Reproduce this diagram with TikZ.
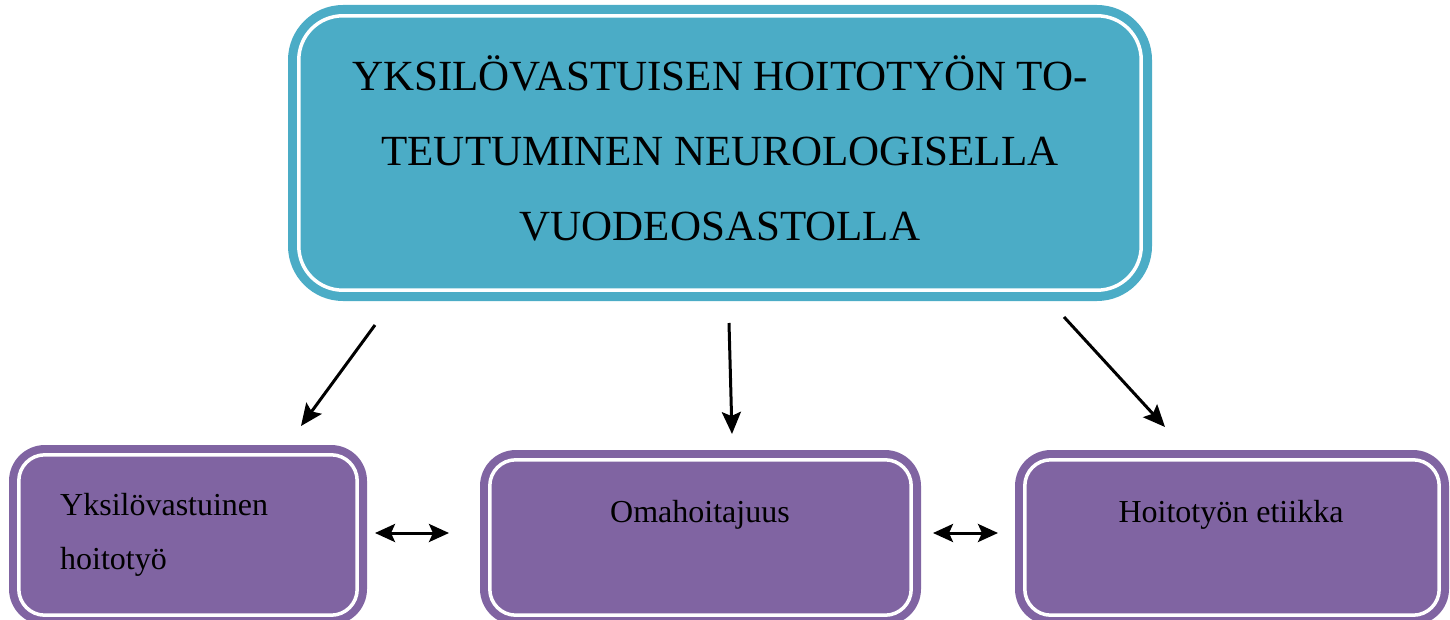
\documentclass[tikz,border=0pt]{standalone}
\usepackage{fontspec}
\setmainfont{Liberation Serif}
\usetikzlibrary{arrows.meta}
\definecolor{topblue}{HTML}{4BACC6}
\definecolor{subpurple}{HTML}{8064A2}
\tikzset{
  topbox/.style={rectangle, rounded corners=55pt, fill=topblue, inner sep=0pt},
  subbox/.style={rectangle, rounded corners=36pt, fill=subpurple, inner sep=0pt},
  innerline/.style={draw=white, line width=3.5pt},
  toptext/.style={align=center, font=\fontsize{43}{75}\selectfont, inner sep=0pt},
  subtext/.style={font=\fontsize{32}{54}\selectfont, inner sep=0pt},
  tipA/.tip={Stealth[length=22pt,width=19pt,inset=4pt]},
  tipB/.tip={Stealth[length=20pt,width=18pt,inset=4pt]},
  arr/.style={line width=3pt, -tipA},
  darr/.style={line width=3pt, tipB-tipB}
}
\begin{document}
\begin{tikzpicture}[x=1pt,y=-1pt]
\useasboundingbox (0,0) rectangle (1450,620);
% top box
\node[topbox, minimum width=864pt, minimum height=296pt] (top) at (720,153) {};
\draw[innerline, rounded corners=44pt] ([shift={(11,11)}]top.north west) rectangle ([shift={(-11,-11)}]top.south east);
\node[toptext, anchor=base] (toplbl) at (720,241) {YKSILÖVASTUISEN HOITOTYÖN TO-\\TEUTUMINEN NEUROLOGISELLA\\VUODEOSASTOLLA};
% bottom boxes
\node[subbox, minimum width=358pt, minimum height=180pt] (b1) at (188,535) {};
\node[subbox, minimum width=441pt, minimum height=175pt] (b2) at (700.5,537.5) {};
\node[subbox, minimum width=434pt, minimum height=175pt] (b3) at (1232,537.5) {};
\foreach \b in {b1,b2,b3}{
  \draw[innerline, rounded corners=26pt] ([shift={(10,10)}]\b.north west) rectangle ([shift={(-10,-10)}]\b.south east);
}
\node[subtext, anchor=base west, align=left] (t1) at (60,569) {Yksilövastuinen\\hoitotyö};
\node[subtext, anchor=base] (t2) at (700,522) {Omahoitajuus};
\node[subtext, anchor=base] (t3) at (1231,522) {Hoitotyön etiikka};
% arrow endpoints
\coordinate (a1s) at (375,325); \coordinate (a1e) at (301,426);
\coordinate (a2s) at (729,323); \coordinate (a2e) at (732,434);
\coordinate (a3s) at (1064,317); \coordinate (a3e) at (1165,427);
\coordinate (d1s) at (375,533); \coordinate (d1e) at (449,533);
\coordinate (d2s) at (933,533); \coordinate (d2e) at (998,533);
\draw[arr] (a1s) -- (a1e);
\draw[arr] (a2s) -- (a2e);
\draw[arr] (a3s) -- (a3e);
\draw[darr] (d1s) -- (d1e);
\draw[darr] (d2s) -- (d2e);
\end{tikzpicture}
\end{document}
